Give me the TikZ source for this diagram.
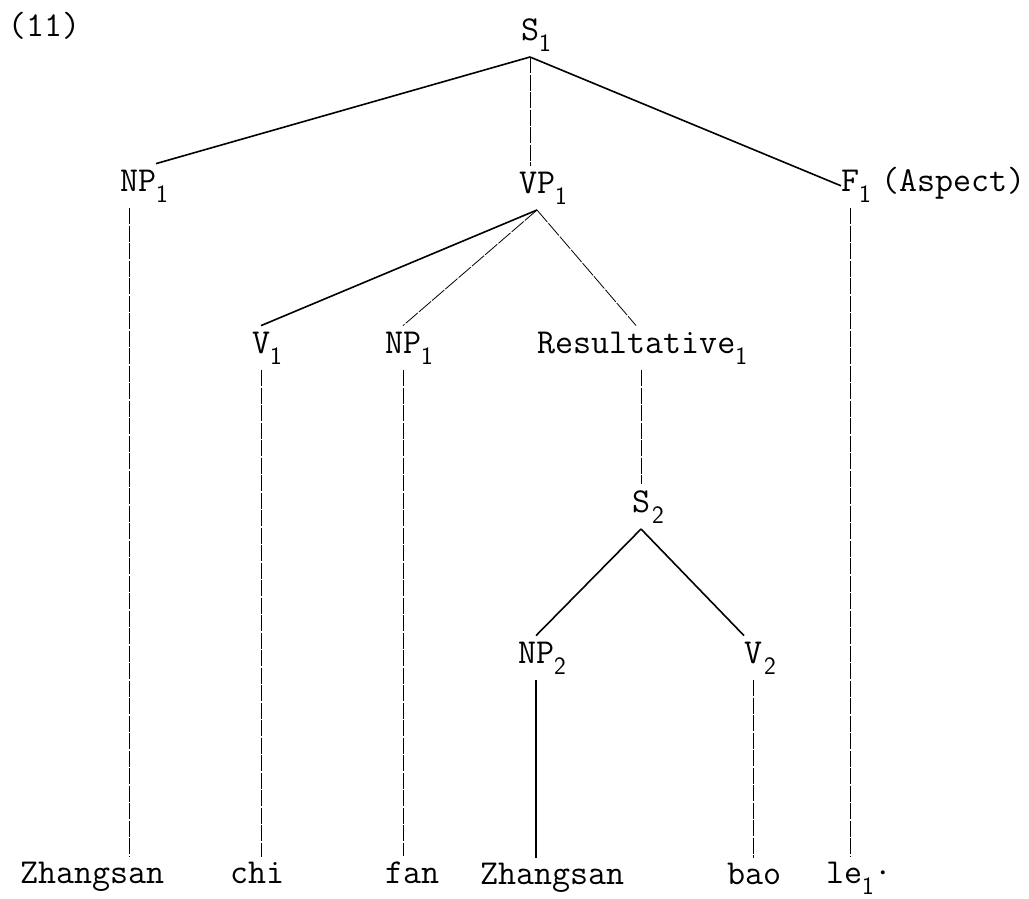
\documentclass[tikz,border=0pt]{standalone}
\usepackage{fontspec}
\usetikzlibrary{positioning}
\newcommand{\subn}[1]{\raisebox{-11pt}{\sffamily\fontsize{25}{25}\selectfont #1}}

\begin{document}
\begin{tikzpicture}[x=1pt, y=-1pt,
		cat/.style={anchor=base west, inner sep=0pt, outer sep=0pt, outer ysep=6pt, font=\ttfamily\fontsize{35}{40}\selectfont},
		leaf/.style={cat, outer ysep=5pt},
		branch/.style={line width=1.6pt},
		faint/.style={line width=0.8pt, dash pattern=on 16pt off 1.5pt},
	]
		\useasboundingbox (0,0) rectangle (1029,898);
		\node (num) [cat] at (8,36) {(11)};
		\node (s1) [cat] at (521,40) {S\rlap{\subn{1}}};
		
		\node (np1) [cat] at (120,191) {NP\rlap{\subn{1}}};
		\node (vp1) [cat] at (519,193) {VP\rlap{\subn{1}}};
		\node (f1) [cat] at (841,191) {F\rlap{\subn{1}}};
		\node (aspect) [cat] at (881,191) {(Aspect)};
		
		\node (v1) [cat] at (252,353) {V\rlap{\subn{1}}};
		\node (np1b) [cat] at (385,353) {NP\rlap{\subn{1}}};
		\node (res) [cat] at (537,353) {Resultative\rlap{\subn{1}}};
		
		\node (s2) [cat] at (632,512) {S\rlap{\kern2pt\subn{2}}};
		\node (np2) [cat] at (518,663) {NP\rlap{\subn{2}}};
		\node (v2) [cat] at (744,663) {V\rlap{\kern2pt\subn{2}}};
		
		\node (zhang1) [leaf] at (20,883) {Zhangsan};
		\node (chi) [leaf] at (230,883) {chi};
		\node (fan) [leaf] at (385,883) {fan};
		\node (zhang2) [leaf] at (480,884) {Zhangsan};
		\node (bao) [leaf] at (727,884) {bao};
		\node (le) [leaf] at (826,883) {le\rlap{\subn{1}\textperiodcentered}};
		
		\draw[branch] (s1.south) -- (np1.north east);
		\draw[faint] (s1.south) -- (s1.south |- vp1.north);
		\draw[branch] (s1.south) -- (f1.west);
		
		\draw[branch] (vp1.south) -- (v1.north);
		\draw[faint] (vp1.south) -- (np1b.north);
		\draw[faint] (vp1.south) -- (res.north);
		\draw[faint] (s2.north |- res.south) -- (s2.north);
		
		\draw[branch] (s2.south) -- (np2.north);
		\draw[branch] (s2.south) -- (v2.north west);
		
		\draw[faint] ([xshift=9pt]np1.south west) -- ([xshift=9pt]np1.south west |- zhang1.north);
		\draw[faint] (v1.south) -- (v1.south |- chi.north);
		\draw[faint] (np1b.south) -- (np1b.south |- fan.north);
		\draw[branch] (np2.south) -- (np2.south |- zhang2.north);
		\draw[faint] (v2.south) -- (v2.south |- bao.north);
		\draw[faint] (f1.south) -- (f1.south |- le.north);
	\end{tikzpicture}
\end{document}
